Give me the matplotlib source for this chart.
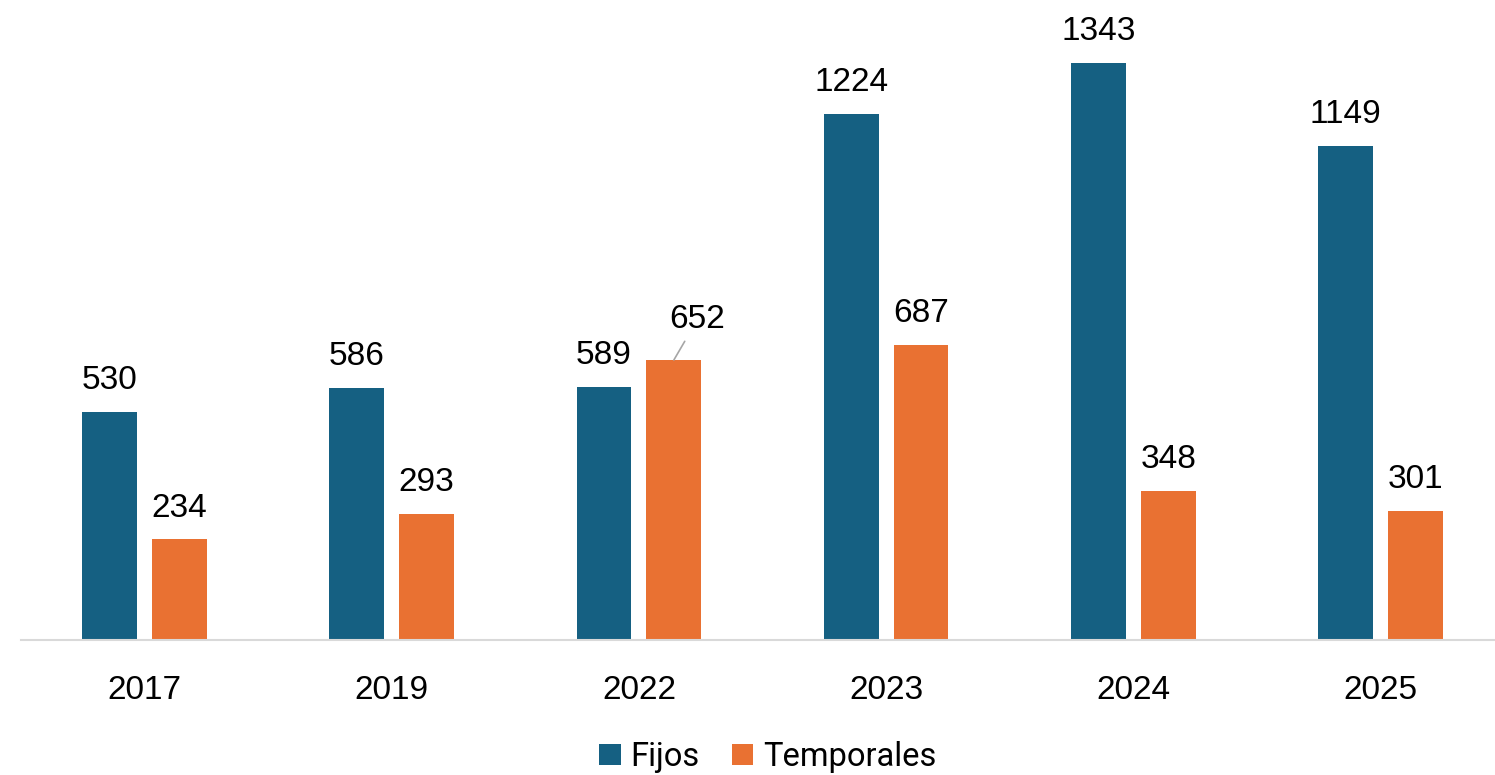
import numpy as np
import matplotlib.pyplot as plt

# datos
anios = ['2017', '2019', '2022', '2023', '2024', '2025']
fijos = [530, 586, 589, 1224, 1343, 1149]
temporales = [234, 293, 652, 687, 348, 301]

azul = '#156082'
naranja = '#E97132'

W, H = 1495, 775
fig = plt.figure(figsize=(W / 100, H / 100), dpi=100)
ax = fig.add_axes([21 / W, (H - 640) / H, 1483 / W, 640 / H])

x = np.arange(len(anios))
ancho = 0.222
desp = 0.1415
b1 = ax.bar(x - desp, fijos, ancho, color=azul, label='Fijos')
b2 = ax.bar(x + desp, temporales, ancho, color=naranja, label='Temporales')

ax.set_xlim(-0.5, len(anios) - 0.5)
ax.set_ylim(0, 1490)

fuente = 'Liberation Sans'
for xi, v in zip(x - desp, fijos):
    ax.annotate(str(v), (xi, v), xytext=(0, 11.5), textcoords='offset points',
                ha='center', va='bottom', fontsize=24, family=fuente)
for i, (xi, v) in enumerate(zip(x + desp, temporales)):
    if anios[i] == '2022':
        ax.annotate(str(v), (xi, v), xytext=(17, 18), textcoords='offset points',
                    ha='center', va='bottom', fontsize=24, family=fuente,
                    arrowprops=dict(arrowstyle='-', color='#a6a6a6', lw=1.2,
                                    shrinkA=3, shrinkB=0))
    else:
        ax.annotate(str(v), (xi, v), xytext=(0, 11.5), textcoords='offset points',
                    ha='center', va='bottom', fontsize=24, family=fuente)

for s in ['top', 'right', 'left']:
    ax.spines[s].set_visible(False)
ax.spines['bottom'].set_color('#d9d9d9')
ax.spines['bottom'].set_linewidth(1.5)
ax.set_yticks([])
ax.set_xticks(x)
ax.set_xticklabels(anios, fontsize=24, family=fuente)
ax.tick_params(axis='x', length=0, pad=25.5)

fig.legend(handles=[b1, b2], loc='center', bbox_to_anchor=(768 / W, 1 - 757 / H),
           ncol=2, frameon=False, prop={'family': 'Roboto', 'size': 23.5},
           handlelength=0.65, handleheight=0.65, handletextpad=0.3,
           columnspacing=1.0)

fig.savefig('out.png', dpi=100)
